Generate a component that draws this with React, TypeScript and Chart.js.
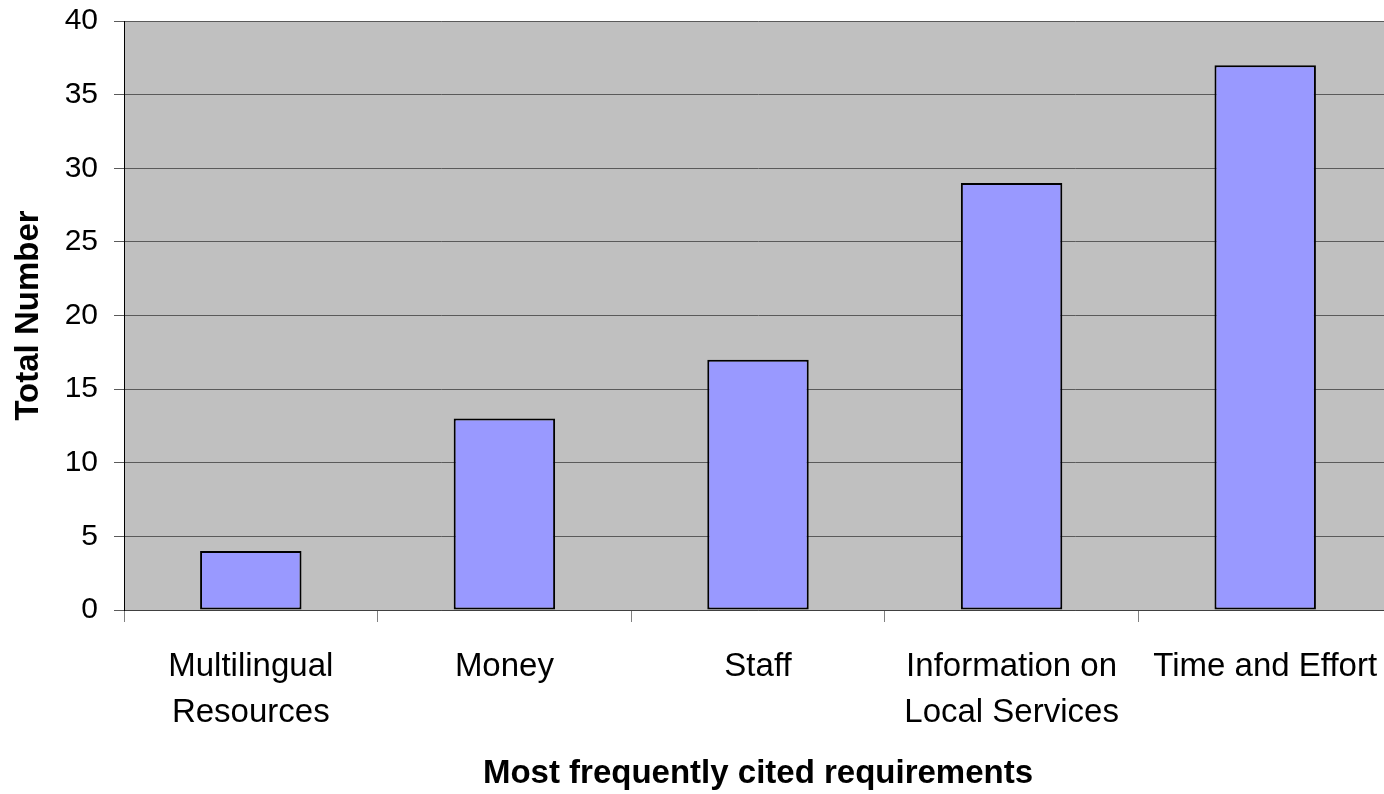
import React, { useEffect, useRef } from "react";
import { Chart, registerables } from "chart.js";

Chart.register(...registerables);

const categories: (string | string[])[] = [
  ["Multilingual", "Resources"],
  "Money",
  "Staff",
  ["Information on", "Local Services"],
  "Time and Effort",
];
const totals: number[] = [4, 13, 17, 29, 37];
const yMin = 0;
const yMax = 40;
const yStep = 5;
const xTitle = "Most frequently cited requirements";
const yTitle = "Total Number";

const FONT = "'Liberation Sans', Arial, Helvetica, sans-serif";

const plotBackground = {
  id: "plotBackground",
  beforeDraw(chart: any) {
    const { ctx, chartArea: a } = chart;
    if (!a) return;
    ctx.save();
    ctx.fillStyle = "#C0C0C0";
    ctx.fillRect(a.left, a.top, a.right - a.left, a.bottom - a.top);
    ctx.restore();
  },
};

export default function App() {
  const canvasRef = useRef<HTMLCanvasElement | null>(null);

  useEffect(() => {
    if (!canvasRef.current) return;
    const chart = new Chart(canvasRef.current, {
      type: "bar",
      data: {
        labels: categories,
        datasets: [
          {
            label: yTitle,
            data: totals,
            backgroundColor: "#9999FF",
            borderColor: "#000000",
            borderWidth: 2,
            borderSkipped: false,
            barPercentage: 0.4,
            categoryPercentage: 1,
          },
        ],
      },
      options: {
        animation: false,
        responsive: false,
        maintainAspectRatio: false,
        events: [],
        layout: { padding: { top: 21, left: 0, right: 0, bottom: 0 } },
        plugins: {
          legend: { display: false },
          tooltip: { enabled: false },
        },
        scales: {
          x: {
            type: "category",
            offset: true,
            grid: {
              offset: true,
              drawOnChartArea: false,
              drawTicks: true,
              tickLength: 12,
              color: "#808080",
              lineWidth: 1,
            },
            border: { display: true, color: "#404040", width: 1 },
            ticks: {
              color: "#000000",
              font: { family: FONT, size: 33, lineHeight: 1.385 },
              padding: 22,
              maxRotation: 0,
              minRotation: 0,
              autoSkip: false,
            },
            title: {
              display: true,
              text: xTitle,
              color: "#000000",
              font: { family: FONT, size: 33, weight: "bold", lineHeight: 1.2 },
              padding: { top: 0, bottom: 0 },
            },
            afterFit: (s: any) => {
              s.height = 184;
              s.paddingLeft = 0;
              s.paddingRight = 0;
            },
          },
          y: {
            min: yMin,
            max: yMax,
            ticks: {
              stepSize: yStep,
              color: "#000000",
              font: { family: FONT, size: 30 },
              padding: 16,
            },
            grid: {
              color: "#5a5a5a",
              lineWidth: 1,
              tickLength: 10,
              drawTicks: true,
            },
            border: { display: true, color: "#000000", width: 1 },
            title: {
              display: true,
              text: yTitle,
              color: "#000000",
              font: { family: FONT, size: 33, weight: "bold", lineHeight: 1.2 },
              padding: { top: 9, bottom: 0 },
            },
            afterFit: (s: any) => {
              s.width = 124;
              s.paddingTop = 0;
              s.paddingBottom = 0;
            },
          },
        },
      },
      plugins: [plotBackground],
    } as any);
    return () => chart.destroy();
  }, []);

  return (
    <div
      style={{
        position: "absolute",
        left: 0,
        top: 0,
        width: 1384,
        height: 794,
        overflow: "hidden",
        background: "#ffffff",
      }}
    >
      <canvas ref={canvasRef} width={1392} height={794} style={{ display: "block" }} />
    </div>
  );
}
